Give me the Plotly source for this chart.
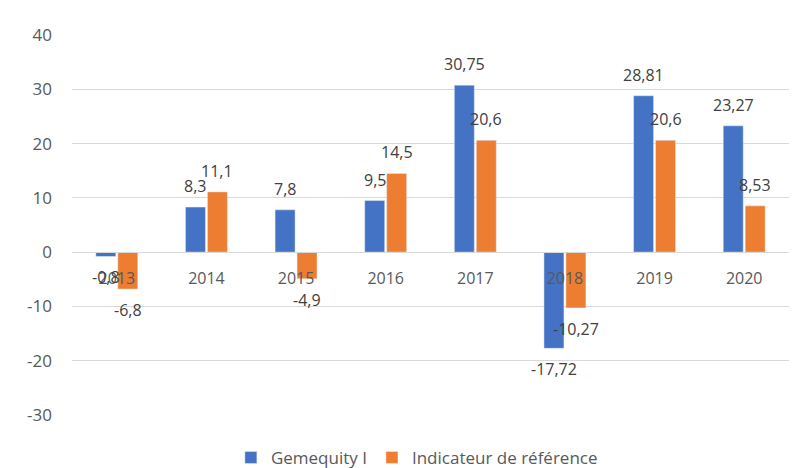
import plotly.graph_objects as go

years = ["2013", "2014", "2015", "2016", "2017", "2018", "2019", "2020"]
gemequity = [-0.8, 8.3, 7.8, 9.5, 30.75, -17.72, 28.81, 23.27]
indicateur = [-6.8, 11.1, -4.9, 14.5, 20.6, -10.27, 20.6, 8.53]
y_ticks = [-30, -20, -10, 0, 10, 20, 30, 40]

def fmt(v):
    return str(v).replace(".", ",")

font_family = "'Open Sans', 'Noto Sans', sans-serif"
label_color = "#404040"
axis_color = "#595959"
fs = 17

fig = go.Figure()
fig.add_trace(go.Bar(x=years, y=gemequity, name="Gemequity I",
                     marker_color="#4472C4", textposition="none"))
fig.add_trace(go.Bar(x=years, y=indicateur, name="Indicateur de référence",
                     marker_color="#ED7D31", textposition="none"))

# data labels (outside end), placed on each bar through the category axis
for series, dx in ((gemequity, -11), (indicateur, 11)):
    for i, v in enumerate(series):
        fig.add_annotation(
            x=i, y=v, xref="x", yref="y", xshift=dx,
            yshift=8 if v >= 0 else -8,
            yanchor="bottom" if v >= 0 else "top",
            text=fmt(v), showarrow=False,
            font=dict(size=fs - 1, color=label_color, family=font_family),
        )

ymin, ymax = -30, 40
fig.update_layout(
    width=806, height=468,
    margin=dict(l=72, r=17, t=35, b=53, autoexpand=False),
    paper_bgcolor="white", plot_bgcolor="white",
    barmode="group", bargap=0.51, bargroupgap=0.09,
    font=dict(family=font_family, size=fs, color=axis_color),
    showlegend=True,
    legend=dict(orientation="h", x=0.481, xanchor="center", y=-0.113, yanchor="middle",
                font=dict(size=fs, color=axis_color), itemwidth=30, traceorder="normal"),
    xaxis=dict(
        type="category", range=[-0.5, len(years) - 0.5],
        anchor="free", position=(0 - ymin) / (ymax - ymin),
        showline=True, linecolor="#d9d9d9", linewidth=1,
        ticks="", tickfont=dict(size=fs - 1, color=axis_color),
        showgrid=False, automargin=False, ticklabelstandoff=12,
    ),
    yaxis=dict(
        range=[ymin, ymax], tickvals=y_ticks,
        ticktext=[str(v) for v in y_ticks],
        showgrid=True, gridcolor="#d9d9d9", gridwidth=1,
        zeroline=True, zerolinecolor="#d9d9d9", zerolinewidth=1,
        tickfont=dict(size=fs, color=axis_color),
        ticklabelstandoff=19, automargin=False,
    ),
)

fig.write_html("out.html", config={"displayModeBar": False},
               post_script="document.body.style.margin='0';document.body.style.overflow='hidden';")
